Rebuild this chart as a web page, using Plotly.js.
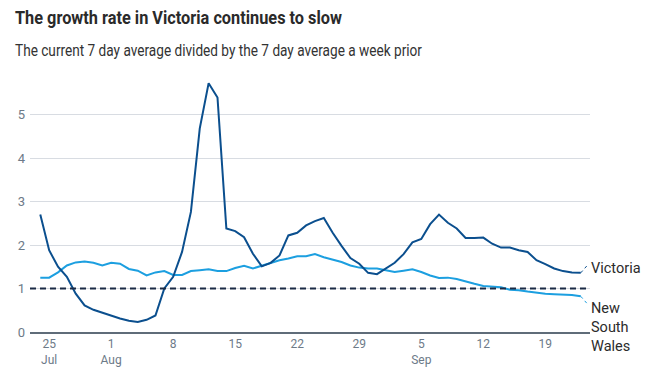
<!DOCTYPE html>
<html><head><meta charset="utf-8">
<script src="https://cdn.plot.ly/plotly-3.0.1.min.js"></script>
<style>html,body{margin:0;padding:0;background:#fff}#chart{width:669px;height:374px}</style>
</head><body><div id="chart"></div>
<script>
const dates = [
 '2020-07-24','2020-07-25','2020-07-26','2020-07-27','2020-07-28','2020-07-29','2020-07-30','2020-07-31',
 '2020-08-01','2020-08-02','2020-08-03','2020-08-04','2020-08-05','2020-08-06','2020-08-07','2020-08-08',
 '2020-08-09','2020-08-10','2020-08-11','2020-08-12','2020-08-13','2020-08-14','2020-08-15','2020-08-16',
 '2020-08-17','2020-08-18','2020-08-19','2020-08-20','2020-08-21','2020-08-22','2020-08-23','2020-08-24',
 '2020-08-25','2020-08-26','2020-08-27','2020-08-28','2020-08-29','2020-08-30','2020-08-31','2020-09-01',
 '2020-09-02','2020-09-03','2020-09-04','2020-09-05','2020-09-06','2020-09-07','2020-09-08','2020-09-09',
 '2020-09-10','2020-09-11','2020-09-12','2020-09-13','2020-09-14','2020-09-15','2020-09-16','2020-09-17',
 '2020-09-18','2020-09-19','2020-09-20','2020-09-21','2020-09-22','2020-09-23'];
const victoria = [
 2.70,1.88,1.50,1.27,0.88,0.61,0.51,0.44,0.37,0.31,0.26,0.23,0.28,0.38,1.00,1.27,
 1.84,2.76,4.68,5.72,5.39,2.38,2.32,2.18,1.80,1.51,1.59,1.76,2.22,2.28,2.45,2.55,
 2.62,2.28,1.98,1.70,1.57,1.36,1.33,1.46,1.59,1.79,2.06,2.14,2.48,2.70,2.51,2.38,
 2.16,2.16,2.17,2.03,1.94,1.94,1.88,1.84,1.65,1.56,1.46,1.40,1.37,1.36];
const nsw = [
 1.25,1.25,1.37,1.53,1.60,1.62,1.59,1.53,1.59,1.57,1.45,1.41,1.30,1.37,1.40,1.31,
 1.31,1.40,1.42,1.44,1.40,1.40,1.47,1.52,1.46,1.52,1.59,1.65,1.69,1.74,1.74,1.79,
 1.72,1.66,1.61,1.53,1.48,1.46,1.46,1.42,1.38,1.41,1.44,1.38,1.30,1.24,1.25,1.22,
 1.16,1.11,1.06,1.05,1.03,0.97,0.96,0.93,0.90,0.88,0.87,0.86,0.85,0.82];
const tickDates = ['2020-07-25','2020-08-01','2020-08-08','2020-08-15','2020-08-22','2020-08-29','2020-09-05','2020-09-12','2020-09-19'];
const tickLabels = ['25<br>Jul','1<br>Aug','8','15','22','29','5<br>Sep','12','19'];
const yTicks = [0,1,2,3,4,5];
const threshold = 1;
const titleText = 'The growth rate in Victoria continues to slow';
const subtitleText = 'The current 7 day average divided by the 7 day average a week prior';
const vicColor = '#0b4f8e';
const nswColor = '#1c9fe0';
const FONT = 'Roboto, "Liberation Sans", sans-serif';

const last = dates.length - 1;
const traces = [
  {x: dates, y: nsw, type: 'scatter', mode: 'lines', line: {color: nswColor, width: 2}, hoverinfo: 'skip'},
  {x: dates, y: victoria, type: 'scatter', mode: 'lines', line: {color: vicColor, width: 2}, hoverinfo: 'skip'}
];
const layout = {
  width: 669, height: 374,
  margin: {l: 30, r: 79, t: 71, b: 42},
  paper_bgcolor: '#fff', plot_bgcolor: '#fff',
  showlegend: false,
  font: {family: FONT, color: '#6d7a88', size: 12},
  xaxis: {
    type: 'date', range: ['2020-07-22 20:10', '2020-09-24 01:00'],
    tickvals: tickDates, ticktext: tickLabels,
    showgrid: false, zeroline: false, showline: true, linecolor: '#5f6c79', linewidth: 1.5,
    ticks: '', tickfont: {family: FONT, size: 12, color: '#6d7a88'}
  },
  yaxis: {
    range: [0, 6], tickvals: yTicks, ticktext: yTicks.map(String),
    showgrid: true, gridcolor: '#d8dce2', gridwidth: 1, zeroline: false, showline: false,
    ticks: '', ticklabelstandoff: 4, tickfont: {family: FONT, size: 13, color: '#6d7a88'}
  },
  shapes: [
    {type: 'line', xref: 'paper', x0: 0, x1: 1, yref: 'y', y0: threshold, y1: threshold,
     line: {color: '#1b2a45', width: 2, dash: '6px,4px'}, layer: 'above'},
    {type: 'line', xref: 'x', xsizemode: 'pixel', xanchor: dates[last], x0: 0, x1: 7,
     yref: 'y', ysizemode: 'pixel', yanchor: victoria[last], y0: 0, y1: 8,
     line: {color: vicColor, width: 1, dash: 'dot'}},
    {type: 'line', xref: 'x', xsizemode: 'pixel', xanchor: dates[last], x0: 0, x1: 7,
     yref: 'y', ysizemode: 'pixel', yanchor: nsw[last], y0: 0, y1: -8,
     line: {color: nswColor, width: 1, dash: 'dot'}}
  ],
  annotations: [
    {text: '<b>' + titleText + '</b>', xref: 'paper', yref: 'paper', align: 'left',
     x: -0.0304, y: 1.2038, xanchor: 'left', yanchor: 'middle', showarrow: false,
     font: {family: FONT, size: 19, color: '#2a2a2a'}},
    {text: subtitleText, xref: 'paper', yref: 'paper', align: 'left',
     x: -0.0304, y: 1.0812, xanchor: 'left', yanchor: 'middle', showarrow: false,
     font: {family: FONT, size: 17, color: '#333333'}},
    {text: 'Victoria', xref: 'x', yref: 'y', x: dates[last], y: victoria[last],
     xanchor: 'left', yanchor: 'middle', xshift: 8, yshift: 4, showarrow: false,
     font: {family: FONT, size: 14.5, color: '#2b2b2b'}},
    {text: 'New<br>South<br>Wales', xref: 'x', yref: 'y', x: dates[last], y: nsw[last],
     xanchor: 'left', yanchor: 'top', align: 'left', xshift: 8, yshift: -2, showarrow: false,
     font: {family: FONT, size: 14.5, color: '#2b2b2b'}}
  ]
};
Plotly.newPlot('chart', traces, layout, {displayModeBar: false, staticPlot: true}).then(function (gd) {
  // condense the headline texts to the reference widths (text stays real SVG text)
  const widths = [327, 407];
  const texts = gd.querySelectorAll('.annotation-text');
  widths.forEach(function (w, i) {
    const t = texts[i];
    if (t) {
      t.setAttribute('text-anchor', 'start');
      t.setAttribute('textLength', w);
      t.setAttribute('lengthAdjust', 'spacingAndGlyphs');
    }
  });
});
</script>
</body></html>
